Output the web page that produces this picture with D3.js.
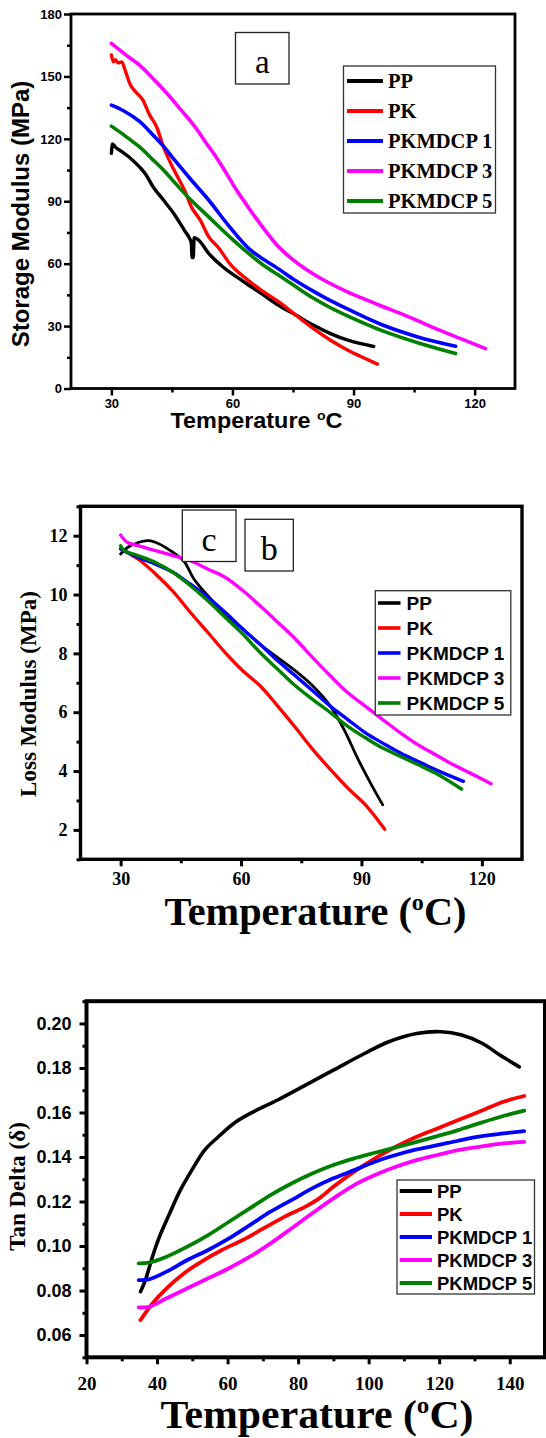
<!DOCTYPE html>
<html>
<head>
<meta charset="utf-8">
<script src="https://cdn.jsdelivr.net/npm/d3@7"></script>
<style>
  body { margin: 0; background: #fff; }
  svg { display: block; }
</style>
</head>
<body>
<svg id="fig" width="546" height="1438"></svg>
<script>
// ---- series shared by all three panels ----
const seriesNames = ["PP", "PK", "PKMDCP 1", "PKMDCP 3", "PKMDCP 5"];
const seriesColors = ["#000000", "#ff0000", "#0000ff", "#ff00ff", "#008000"];

// ---- (a) storage modulus, [temperature °C, MPa] ----
const storagePP = [[30,113],[30.3,117.5],[31,116],[32.5,114],[34.3,111.4],[36.9,106.6],[38.5,103],[40.3,97],
  [42.9,90.6],[45.5,84],[48.1,76],[49.4,72],[49.8,70],[50.0,63],[50.3,63],[50.5,72.5],[51.5,71.5],[54.1,65],
  [57.6,58.5],[62.8,51.3],[67.1,45.7],[71.4,40],[75.7,35.3],[80,30.5],[84.3,26.4],[88.6,23.2],[95,20.2]];
const storagePK = [[30,160.3],[30.5,157],[31,158],[31.7,156.5],[32.6,157],[33.4,153],[34.7,146],[36,142.6],
  [37.8,138.6],[39.5,131.4],[41.2,125.8],[42.9,116.2],[44.7,108.2],[46.4,101.8],[48.1,95.4],[49.8,87.4],
  [52,81],[54.1,73],[56.7,67.3],[59.3,60.1],[62.8,53.7],[67.1,47.3],[71.4,41.7],[75.7,35.3],[80,28.9],
  [84.3,23.2],[88.6,18.4],[92.9,14.4],[95.9,11.7]];
const storageM1 = [[30,136.2],[33,133.5],[36.9,128.5],[40,122.5],[42.9,116.5],[46,109],[49.8,100.2],
  [54.1,90.6],[59.3,77.7],[64.5,66.5],[71.4,57.5],[75.7,51.8],[80,46.8],[84.3,42.2],[88.6,38.1],
  [97.2,30.5],[105.9,24.8],[115.3,20.3]];
const storageM3 = [[30,165.9],[33.5,160.5],[36.9,155.5],[40.3,149],[43.8,141.8],[47.2,134],[50.7,125.8],
  [53.3,118.5],[55.9,111.4],[58.5,103.4],[61,95.4],[63.6,88],[66.2,80.9],[68.8,74.2],[71.4,68.1],
  [74.8,62.2],[78.3,57.2],[81.8,53],[85.2,49.5],[89,46],[92.9,42.8],[97.2,39.4],[101.6,36.1],[106,32.5],
  [110.2,28.9],[116.5,24],[122.7,19.2]];
const storageM5 = [[30,126.1],[33,122],[36.9,116.2],[40,110.5],[42.9,105],[45.9,98.5],[48.9,92.2],
  [54.1,82.5],[60.2,71.3],[67.1,60.1],[71.4,54.5],[75.7,48.9],[80,43.5],[84.3,38.8],[88.6,34.8],
  [97.2,27.7],[105.9,22],[115.3,16.8]];
const storageTicksX = [30, 60, 90, 120];
const storageMinorX = [45, 75, 105];
const storageTicksY = [0, 30, 60, 90, 120, 150, 180];
const storageMinorY = [15, 45, 75, 105, 135, 165];

// ---- (b) loss modulus, [temperature °C, MPa] ----
const lossPP = [[30,11.38],[31.7,11.6],[34.4,11.77],[37,11.83],[39.6,11.72],[43.1,11.43],[45.7,11.15],
  [48.3,10.52],[51.8,9.95],[56.1,9.33],[60.5,8.82],[64.8,8.3],[69.2,7.85],[73.6,7.4],[77.9,6.89],
  [82.3,6.2],[85.7,5.4],[89.2,4.39],[92.7,3.48],[95.3,2.85]];
const lossPK = [[30,11.55],[34.4,11.2],[38.7,10.7],[43.1,10.1],[47.4,9.39],[51.8,8.7],[56.1,8.02],
  [60.5,7.4],[64.8,6.89],[69.2,6.2],[73.6,5.47],[77.9,4.73],[82.3,4.05],[86.6,3.42],[91,2.85],[95.8,2.02]];
const lossM1 = [[30,11.55],[34.4,11.26],[38.7,11.03],[43.1,10.75],[47.4,10.35],[51.8,9.9],[56.1,9.39],
  [60.5,8.82],[64.8,8.3],[69.2,7.74],[73.6,7.23],[77.9,6.72],[82.3,6.2],[86.6,5.75],[91,5.3],[95.3,4.95],
  [99.7,4.61],[104,4.33],[108.4,4.05],[115.4,3.65]];
const lossM3 = [[30,12.02],[31.7,11.77],[34.4,11.66],[38.7,11.49],[43.1,11.32],[47.4,11.15],[51.8,10.86],
  [56.1,10.58],[60.5,10.13],[64.8,9.61],[69.2,9.05],[73.6,8.48],[77.9,7.85],[82.3,7.23],[86.6,6.66],
  [91,6.2],[95.3,5.75],[99.7,5.3],[104,4.9],[108.4,4.56],[112.8,4.22],[117.1,3.93],[122.3,3.57]];
const lossM5 = [[30,11.66],[30.9,11.49],[34.4,11.32],[38.7,11.09],[43.1,10.75],[47.4,10.3],[51.8,9.78],
  [56.1,9.22],[60.5,8.65],[64.8,8.02],[69.2,7.45],[73.6,6.89],[77.9,6.43],[82.3,5.98],[86.6,5.52],
  [91,5.13],[95.3,4.78],[99.7,4.5],[104,4.22],[108.4,3.93],[114.9,3.39]];
const lossTicksX = [30, 60, 90, 120];
const lossMinorX = [45, 75, 105];
const lossTicksY = [2, 4, 6, 8, 10, 12];
const lossMinorY = [1, 3, 5, 7, 9, 11, 13];

// ---- (c) tan delta, [temperature °C, tan δ] ----
const tanPP = [[35.3,0.0795],[36.7,0.0847],[38.7,0.0952],[40.7,0.1042],[43.6,0.1147],[46.6,0.1251],
  [49.6,0.1334],[53.5,0.1431],[57.4,0.1491],[62.4,0.1558],[67.3,0.1603],[74.2,0.1656],[82.1,0.1723],
  [90,0.179],[98.8,0.1865],[105.7,0.1918],[113.6,0.1955],[120.5,0.1963],[126.4,0.1948],[132.3,0.191],
  [137.2,0.1858],[142.7,0.1805]];
const tanPK = [[35.3,0.0667],[38.7,0.0742],[42.7,0.081],[47.6,0.0877],[52.5,0.0929],[58.4,0.0982],
  [64.3,0.1027],[70.2,0.1079],[76.2,0.1132],[82.1,0.1177],[86,0.1214],[90,0.1266],[95.9,0.1334],
  [101.8,0.1394],[107.7,0.1446],[113.6,0.1491],[119.5,0.1528],[125.4,0.1566],[131.3,0.1603],
  [138.2,0.1648],[144.1,0.1674]];
const tanM1 = [[34.8,0.0847],[37.7,0.085],[42.7,0.0885],[48.6,0.0937],[54.5,0.0982],[60.4,0.1034],
  [66.3,0.1094],[72.2,0.1154],[78.1,0.1206],[84,0.1259],[90,0.1304],[95.9,0.1341],[101.8,0.1379],
  [107.7,0.1409],[113.6,0.1434],[119.5,0.1453],[125.4,0.1473],[131.3,0.1491],[138.2,0.1506],[144.1,0.1516]];
const tanM3 = [[34.8,0.0724],[37.7,0.0727],[42.7,0.0765],[48.6,0.081],[54.5,0.0855],[60.4,0.09],
  [66.3,0.0952],[72.2,0.1012],[78.1,0.1079],[84,0.1147],[90,0.1214],[95.9,0.1274],[101.8,0.1319],
  [107.7,0.1356],[113.6,0.1386],[119.5,0.1409],[125.4,0.1431],[131.3,0.1446],[138.2,0.1461],[144.1,0.1468]];
const tanM5 = [[34.8,0.0922],[37.7,0.0925],[42.7,0.0952],[48.6,0.0997],[54.5,0.1049],[60.4,0.1109],
  [66.3,0.1169],[72.2,0.1229],[78.1,0.1281],[84,0.1326],[90,0.1364],[95.9,0.1394],[101.8,0.1419],
  [107.7,0.1443],[113.6,0.1468],[119.5,0.1494],[125.4,0.1521],[131.3,0.1551],[138.2,0.1584],[144.1,0.1608]];
const tanTicksX = [20, 40, 60, 80, 100, 120, 140];
const tanMinorX = [30, 50, 70, 90, 110, 130];
const tanTicksY = [0.06, 0.08, 0.10, 0.12, 0.14, 0.16, 0.18, 0.20];
const tanMinorY = [0.05, 0.07, 0.09, 0.11, 0.13, 0.15, 0.17, 0.19, 0.21];

const SANS = "'Liberation Sans', Arial, sans-serif";
const SERIF = "'Liberation Serif', 'Times New Roman', serif";

const svg = d3.select("#fig");

function drawPanel(cfg) {
  const g = svg.append("g");
  const x = d3.scaleLinear().domain(cfg.xDomain).range(cfg.xRange);
  const y = d3.scaleLinear().domain(cfg.yDomain).range(cfg.yRange);

  // curves: jagged raw traces keep a monotone spline, smooth ones a Catmull-Rom spline
  cfg.series.forEach((s, i) => {
    const curve = (cfg.monotone || []).includes(i) ? d3.curveMonotoneX : d3.curveCatmullRom.alpha(0.5);
    const line = d3.line().x(d => x(d[0])).y(d => y(d[1])).curve(curve);
    g.append("path")
      .datum(s)
      .attr("fill", "none")
      .attr("stroke", seriesColors[i])
      .attr("stroke-width", cfg.lineWidths[i])
      .attr("stroke-linejoin", "round")
      .attr("stroke-linecap", "round")
      .attr("d", line);
  });

  const [x0, x1] = cfg.xRange;
  const [y0, y1] = cfg.yRange;

  // axes with outward ticks
  const styleAxis = (sel, fs, family) => {
    sel.select(".domain").remove();
    sel.selectAll(".tick line").attr("stroke", "#000").attr("stroke-width", cfg.tickWidth);
    sel.selectAll(".tick text")
      .attr("fill", "#000")
      .style("font-family", family)
      .style("font-weight", "bold")
      .style("font-size", fs + "px");
  };

  g.append("g").attr("transform", `translate(0,${y0})`)
    .call(d3.axisBottom(x).tickValues(cfg.xTicks).tickSize(7).tickPadding(cfg.xPad)
      .tickSizeOuter(0).tickFormat(cfg.xFormat))
    .call(s => styleAxis(s, cfg.xTickFont, cfg.xTickFamily));
  g.append("g").attr("transform", `translate(0,${y0})`)
    .call(d3.axisBottom(x).tickValues(cfg.xMinor).tickSize(4).tickSizeOuter(0).tickFormat(""))
    .call(s => styleAxis(s, 1, SANS));
  g.append("g").attr("transform", `translate(${x0},0)`)
    .call(d3.axisLeft(y).tickValues(cfg.yTicks).tickSize(7).tickPadding(cfg.yPad)
      .tickSizeOuter(0).tickFormat(cfg.yFormat))
    .call(s => styleAxis(s, cfg.yTickFont, cfg.yTickFamily));
  g.append("g").attr("transform", `translate(${x0},0)`)
    .call(d3.axisLeft(y).tickValues(cfg.yMinor).tickSize(4).tickSizeOuter(0).tickFormat(""))
    .call(s => styleAxis(s, 1, SANS));

  // frame
  g.append("rect")
    .attr("x", x0).attr("y", y1)
    .attr("width", x1 - x0).attr("height", y0 - y1)
    .attr("fill", "none").attr("stroke", "#000").attr("stroke-width", cfg.frameWidth);

  // axis titles
  const yt = cfg.yTitle;
  g.append("text")
    .attr("transform", `translate(${yt.x},${yt.y}) rotate(-90)`)
    .attr("text-anchor", "middle")
    .style("font-family", yt.family).style("font-weight", "bold").style("font-size", yt.size + "px")
    .text(yt.text);

  const xt = cfg.xTitle;
  const t = g.append("text")
    .attr("x", xt.x).attr("y", xt.y)
    .attr("text-anchor", "middle")
    .attr("textLength", xt.width).attr("lengthAdjust", "spacingAndGlyphs")
    .style("font-family", xt.family).style("font-weight", "bold").style("font-size", xt.size + "px");
  t.append("tspan").text(xt.before);
  t.append("tspan").attr("dy", -xt.size * 0.38).style("font-size", (xt.size * 0.6) + "px").text("o");
  t.append("tspan").attr("dy", xt.size * 0.38).text(xt.after);

  // boxed panel letters
  (cfg.letters || []).forEach(L => {
    g.append("rect").attr("x", L.x).attr("y", L.y).attr("width", L.w).attr("height", L.h)
      .attr("fill", "#fff").attr("stroke", "#222").attr("stroke-width", 1.3);
    g.append("text")
      .attr("x", L.x + L.w / 2).attr("y", L.base)
      .attr("text-anchor", "middle")
      .style("font-family", SERIF).style("font-size", L.size + "px")
      .text(L.text);
  });

  // legend
  const lg = cfg.legend;
  g.append("rect").attr("x", lg.x).attr("y", lg.y).attr("width", lg.w).attr("height", lg.h)
    .attr("fill", "#fff").attr("stroke", "#333").attr("stroke-width", 1.3);
  seriesNames.forEach((name, i) => {
    const ry = lg.row0 + i * lg.step;
    g.append("line")
      .attr("x1", lg.lx0).attr("x2", lg.lx1).attr("y1", ry).attr("y2", ry)
      .attr("stroke", seriesColors[i]).attr("stroke-width", lg.lineW);
    g.append("text")
      .attr("x", lg.tx).attr("y", ry + lg.dy)
      .style("font-family", lg.family).style("font-weight", "bold").style("font-size", lg.size + "px")
      .text(name);
  });
}

// (a) storage modulus
drawPanel({
  xDomain: [20, 130], xRange: [71, 515],
  yDomain: [0, 180], yRange: [388.5, 14],
  series: [storagePP, storagePK, storageM1, storageM3, storageM5],
  monotone: [0, 1],
  lineWidths: [3.4, 3.4, 3.6, 3.6, 3.6],
  xTicks: storageTicksX, xMinor: storageMinorX, yTicks: storageTicksY, yMinor: storageMinorY,
  xFormat: d3.format("d"), yFormat: d3.format("d"),
  xPad: 3, yPad: 2, xTickFont: 13, yTickFont: 13, xTickFamily: SANS, yTickFamily: SANS,
  tickWidth: 2.5, frameWidth: 2.8,
  yTitle: { text: "Storage Modulus (MPa)", x: 29, y: 214, size: 24, family: SANS },
  xTitle: { before: "Temperature ", after: "C", x: 256.5, y: 428, size: 21.5, width: 172, family: SANS },
  letters: [{ text: "a", x: 235.5, y: 32.5, w: 53.5, h: 51.5, base: 73, size: 33 }],
  legend: { x: 343.5, y: 66, w: 152, h: 147, row0: 81, step: 30, lx0: 347, lx1: 383, tx: 388,
            dy: 7, size: 20.5, family: SERIF, lineW: 4 }
});

// (b) loss modulus
drawPanel({
  xDomain: [20, 130], xRange: [80.5, 522],
  yDomain: [1, 13], yRange: [859.3, 506.3],
  series: [lossPP, lossPK, lossM1, lossM3, lossM5],
  lineWidths: [2.8, 3.3, 3.4, 3.4, 3.4],
  xTicks: lossTicksX, xMinor: lossMinorX, yTicks: lossTicksY, yMinor: lossMinorY,
  xFormat: d3.format("d"), yFormat: d3.format("d"),
  xPad: 6, yPad: 6, xTickFont: 18, yTickFont: 18, xTickFamily: SERIF, yTickFamily: SERIF,
  tickWidth: 3, frameWidth: 3.4,
  yTitle: { text: "Loss Modulus (MPa)", x: 36, y: 694, size: 23, family: SERIF },
  xTitle: { before: "Temperature (", after: "C)", x: 315.5, y: 925, size: 39, width: 302, family: SERIF },
  letters: [
    { text: "c", x: 182.3, y: 510, w: 53.7, h: 51.5, base: 551, size: 34 },
    { text: "b", x: 245, y: 519.3, w: 48.3, h: 51.7, base: 560, size: 34 }
  ],
  legend: { x: 375.3, y: 590.7, w: 135.5, h: 124.3, row0: 603, step: 25, lx0: 378, lx1: 400.5, tx: 406.5,
            dy: 6.8, size: 19, family: SANS, lineW: 3.6 }
});

// (c) tan delta
drawPanel({
  xDomain: [20, 150], xRange: [86.5, 545],
  yDomain: [0.05, 0.21], yRange: [1357.3, 1001.2],
  series: [tanPP, tanPK, tanM1, tanM3, tanM5],
  lineWidths: [3.6, 3.8, 3.8, 3.8, 3.8],
  xTicks: tanTicksX, xMinor: tanMinorX, yTicks: tanTicksY, yMinor: tanMinorY,
  xFormat: d3.format("d"), yFormat: d3.format(".2f"),
  xPad: 12, yPad: 8, xTickFont: 19, yTickFont: 18, xTickFamily: SERIF, yTickFamily: SANS,
  tickWidth: 3, frameWidth: 4,
  yTitle: { text: "Tan Delta (\u03b4)", x: 24.5, y: 1186.5, size: 23, family: SERIF },
  xTitle: { before: "Temperature (", after: "C)", x: 317, y: 1428, size: 40, width: 313, family: SERIF },
  legend: { x: 397, y: 1180, w: 137.5, h: 114, row0: 1191, step: 23, lx0: 399.7, lx1: 432, tx: 437,
            dy: 6.5, size: 18.5, family: SANS, lineW: 4 }
});
</script>
</body>
</html>
